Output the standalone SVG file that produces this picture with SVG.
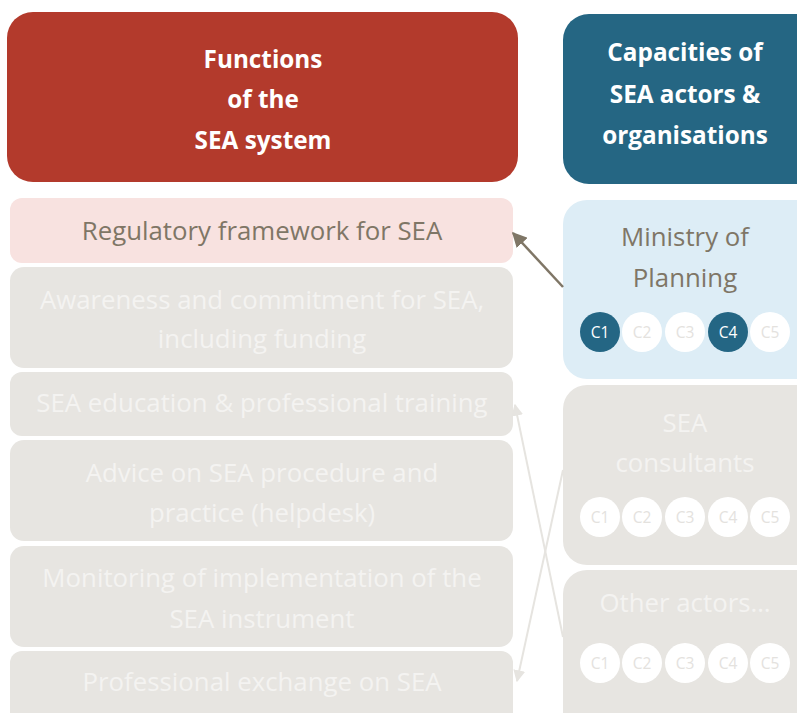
<svg xmlns="http://www.w3.org/2000/svg" width="797" height="713" viewBox="0 0 797 713">
<defs>
<style>
.hdr{font-family:"Open Sans","Liberation Sans",sans-serif;font-weight:bold;font-size:24.3px;fill:#ffffff;text-anchor:middle}
.fn{font-family:"Open Sans","Liberation Sans",sans-serif;font-size:25.8px;text-anchor:middle}
.grey{fill:#E7E5E1}
.gt{fill:#F4F3F1}
.ct{font-family:"Open Sans","Liberation Sans",sans-serif;font-size:15.5px;text-anchor:middle}
.cw{fill:#ffffff}
.cd{fill:#246684}
.cwt{fill:#E4E2DE}
.cdt{fill:#ffffff}
</style>
<marker id="ahDark" viewBox="0 0 10 10" refX="9" refY="5" markerWidth="6" markerHeight="6" orient="auto" markerUnits="strokeWidth">
<path d="M0,0 L10,5 L0,10 z" fill="#7F7666"/>
</marker>
<marker id="ahLight" viewBox="0 0 10 10" refX="9" refY="5" markerWidth="6" markerHeight="6" orient="auto" markerUnits="strokeWidth">
<path d="M0,0 L10,5 L0,10 z" fill="#E6E4E0"/>
</marker>
</defs>
<rect width="797" height="713" fill="#ffffff"/>

<g id="header-functions">
<rect x="7" y="12" width="511" height="170" rx="26" fill="#B33A2C"/>
<text class="hdr" x="263" y="68">Functions</text>
<text class="hdr" x="263" y="108">of the</text>
<text class="hdr" x="263" y="149">SEA system</text>
</g>
<g id="header-capacities">
<rect x="563" y="14" width="260" height="170" rx="26" fill="#256683"/>
<text class="hdr" x="685" y="61">Capacities of</text>
<text class="hdr" x="685" y="103">SEA actors &amp;</text>
<text class="hdr" x="685" y="144">organisations</text>
</g>

<g id="fn-regulatory">
<rect x="10" y="198" width="503" height="65" rx="12" fill="#F8E2E0"/>
<text class="fn" x="262" y="240" fill="#7F7666">Regulatory framework for SEA</text>
</g>
<g id="fn-awareness">
<rect class="grey" x="10" y="267" width="503" height="101" rx="14"/>
<text class="fn gt" x="262" y="309">Awareness and commitment for SEA,</text>
<text class="fn gt" x="262" y="348">including funding</text>
</g>
<g id="fn-education">
<rect class="grey" x="10" y="372" width="503" height="64" rx="12"/>
<text class="fn gt" x="262" y="412">SEA education &amp; professional training</text>
</g>
<g id="fn-advice">
<rect class="grey" x="10" y="440" width="503" height="101" rx="14"/>
<text class="fn gt" x="262" y="482">Advice on SEA procedure and</text>
<text class="fn gt" x="262" y="522">practice (helpdesk)</text>
</g>
<g id="fn-monitoring">
<rect class="grey" x="10" y="546" width="503" height="101" rx="14"/>
<text class="fn gt" x="262" y="587">Monitoring of implementation of the</text>
<text class="fn gt" x="262" y="628">SEA instrument</text>
</g>
<g id="fn-exchange">
<rect class="grey" x="10" y="651" width="503" height="75" rx="12"/>
<text class="fn gt" x="262" y="691">Professional exchange on SEA</text>
</g>

<g id="actor-ministry">
<rect x="563" y="200" width="260" height="179" rx="24" fill="#DDEDF6"/>
<text class="fn" x="685" y="246" fill="#7F7666">Ministry of</text>
<text class="fn" x="685" y="287" fill="#7F7666">Planning</text>
<circle class="cd" cx="600" cy="332" r="20"/><text class="ct cdt" x="600" y="338">C1</text>
<circle class="cw" cx="642" cy="332" r="20"/><text class="ct cwt" x="642" y="338">C2</text>
<circle class="cw" cx="685" cy="332" r="20"/><text class="ct cwt" x="685" y="338">C3</text>
<circle class="cd" cx="728" cy="332" r="20"/><text class="ct cdt" x="728" y="338">C4</text>
<circle class="cw" cx="770" cy="332" r="20"/><text class="ct cwt" x="770" y="338">C5</text>
</g>
<g id="actor-consultants">
<rect class="grey" x="563" y="385" width="260" height="180" rx="24"/>
<text class="fn gt" x="685" y="432">SEA</text>
<text class="fn gt" x="685" y="472">consultants</text>
<circle class="cw" cx="600" cy="517" r="20"/><text class="ct cwt" x="600" y="523">C1</text>
<circle class="cw" cx="642" cy="517" r="20"/><text class="ct cwt" x="642" y="523">C2</text>
<circle class="cw" cx="685" cy="517" r="20"/><text class="ct cwt" x="685" y="523">C3</text>
<circle class="cw" cx="728" cy="517" r="20"/><text class="ct cwt" x="728" y="523">C4</text>
<circle class="cw" cx="770" cy="517" r="20"/><text class="ct cwt" x="770" y="523">C5</text>
</g>
<g id="actor-other">
<rect class="grey" x="563" y="570" width="260" height="170" rx="24"/>
<text class="fn gt" x="685" y="612">Other actors…</text>
<circle class="cw" cx="600" cy="663" r="20"/><text class="ct cwt" x="600" y="669">C1</text>
<circle class="cw" cx="642" cy="663" r="20"/><text class="ct cwt" x="642" y="669">C2</text>
<circle class="cw" cx="685" cy="663" r="20"/><text class="ct cwt" x="685" y="669">C3</text>
<circle class="cw" cx="728" cy="663" r="20"/><text class="ct cwt" x="728" y="669">C4</text>
<circle class="cw" cx="770" cy="663" r="20"/><text class="ct cwt" x="770" y="669">C5</text>
</g>

<g id="connectors">
<line x1="563" y1="287" x2="513" y2="233" stroke="#7F7666" stroke-width="2.5" marker-end="url(#ahDark)"/>
<line x1="563" y1="470" x2="517" y2="681" stroke="#E6E4E0" stroke-width="2" marker-end="url(#ahLight)"/>
<line x1="563" y1="637" x2="515" y2="405" stroke="#E6E4E0" stroke-width="2" marker-end="url(#ahLight)"/>
</g>
</svg>
